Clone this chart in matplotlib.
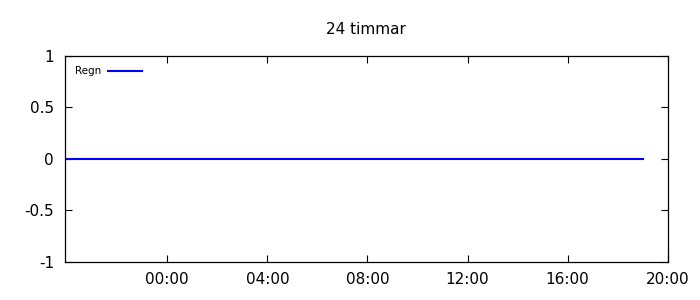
import datetime as dt
import matplotlib
matplotlib.use("Agg")
import matplotlib.pyplot as plt
import matplotlib.dates as mdates

# data: hourly rain for the last 24 hours
start = dt.datetime(2024, 1, 1, 20, 0)
tider = [start + dt.timedelta(hours=h) for h in range(24)]
regn = [0, 0, 0, 0, 0, 0, 0, 0, 0, 0, 0, 0,
        0, 0, 0, 0, 0, 0, 0, 0, 0, 0, 0, 0]
x_start = start - dt.timedelta(minutes=5)
x_slut = start + dt.timedelta(hours=24)
x_ticks = [start + dt.timedelta(hours=h) for h in (4, 8, 12, 16, 20, 24)]
y_ticks = [-1, -0.5, 0, 0.5, 1]
y_etiketter = ["-1", "-0.5", "0", "0.5", "1"]

fig = plt.figure(figsize=(7, 3), dpi=100)
ax = fig.add_axes([0.0929, 0.1267, 0.861, 0.6867])

ax.plot(tider, regn, color="#0000ff", linewidth=1.5, label="Regn")

ax.set_xlim(x_start, x_slut)
ax.set_ylim(-1, 1)
ax.set_xticks(x_ticks)
ax.xaxis.set_major_formatter(mdates.DateFormatter("%H:%M"))
ax.set_yticks(y_ticks)
ax.set_yticklabels(y_etiketter)

ax.tick_params(direction="in", length=5, width=0.8, top=True, right=True,
               labelsize=11, colors="black")
ax.tick_params(axis="x", pad=7)
ax.tick_params(axis="y", pad=8)
for s in ax.spines.values():
    s.set_linewidth(0.9)

ax.set_title("24 timmar", fontsize=11, pad=16)
ax.legend(loc="upper left", markerfirst=False, frameon=False, fontsize=7.5,
          handlelength=3.3, borderaxespad=0.6, handletextpad=0.6)

fig.savefig("out.png", dpi=100)
